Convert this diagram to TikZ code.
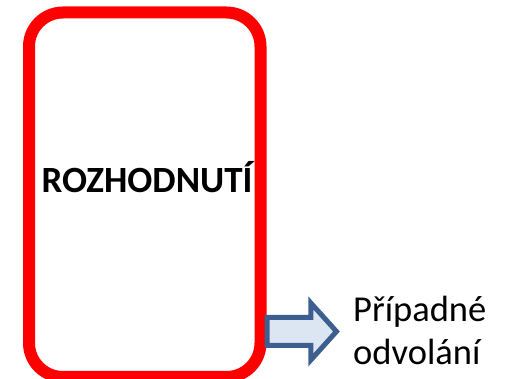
\documentclass[tikz,border=0pt]{standalone}
\usepackage{fontspec}
\setmainfont{Carlito}
\usetikzlibrary{shapes.arrows}
\definecolor{cervena}{HTML}{FF0000}
\definecolor{modra}{HTML}{3C5F8F}
\definecolor{svetlemodra}{HTML}{DCE6F2}

\begin{document}
\begin{tikzpicture}[x = 1pt, y = -1pt]
\useasboundingbox (0, 0) rectangle (507, 379);
% Rámeček rozhodnutí
\node[draw = cervena, line width = 12pt, rounded corners = 34pt, minimum width = 231.5pt,
    minimum height = 364.5pt, inner sep = 0pt] (ramecek) at (144.75, 194.75) {};
\node[font = \fontsize{37}{43}\selectfont\bfseries, inner sep = 0pt] (nazev) at (147, 177.5) {ROZHODNUTÍ};

% Šipka k odvolání
\node[single arrow, draw = modra, fill = svetlemodra, line width = 5pt, inner xsep = 0pt,
    inner ysep = 11.5pt, minimum height = 69.5pt, single arrow head extend = 14.5pt,
    single arrow tip angle = 96, anchor = tail] (sipka) at (264.5, 331.5) {};
\node[font = \fontsize{36.5}{43}\selectfont, align = left, anchor = base west, inner sep = 0pt] (odvolani)
    at (353, 365) {Případné\\odvolání};
\end{tikzpicture}
\end{document}
